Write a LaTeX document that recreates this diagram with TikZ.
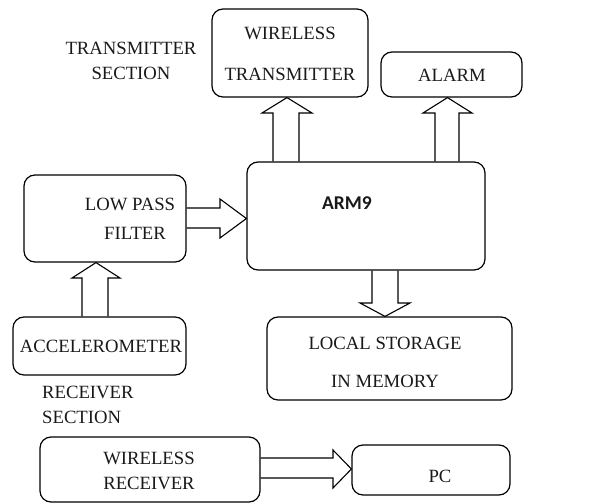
\documentclass[tikz,border=0pt]{standalone}
\usepackage{fontspec}
\setmainfont{Liberation Serif}
\newfontfamily\armfont{Carlito}
\begin{document}
\begin{tikzpicture}[x=1pt,y=-1pt,
  box/.style={draw=black,line width=1.2pt,rounded corners=11pt,inner sep=0pt},
  txt/.style={font=\fontsize{18.7}{25}\selectfont,text=black!90,inner sep=0pt,align=center},
  barrow/.style={draw=black,line width=1.1pt,line join=miter}]
\useasboundingbox (0,0) rectangle (602,503);
% boxes
\node[box,minimum width=156pt,minimum height=88pt] (wt) at (290,53) {};
\node[box,minimum width=141pt,minimum height=45pt] (alarm) at (451.5,74.5) {};
\node[box,minimum width=238pt,minimum height=108pt] (arm) at (366,216) {};
\node[box,minimum width=162pt,minimum height=87pt] (lpf) at (105,218.5) {};
\node[box,minimum width=173pt,minimum height=58pt] (acc) at (99.5,346) {};
\node[box,minimum width=245pt,minimum height=83pt] (ls) at (389.5,358.5) {};
\node[box,minimum width=220pt,minimum height=65pt] (wr) at (150,469.5) {};
\node[box,minimum width=158pt,minimum height=50pt] (pc) at (431,470) {};
% texts
\node[txt,font=\fontsize{18.7}{41}\selectfont] (wtt) at (290,54) {WIRELESS\\TRANSMITTER};
\node[txt] (alarmt) at (452,75) {ALARM};
\node[txt,font=\armfont\bfseries\fontsize{19.5}{20}\selectfont] (armt) at (347,203) {ARM9};
\node[txt,font=\fontsize{18.7}{29}\selectfont] (lpft) at (130,219) {LOW PASS\\\hspace*{10pt}FILTER};
\node[txt] (acct) at (101,346) {ACCELEROMETER};
\node[txt,font=\fontsize{18.7}{38}\selectfont] (lst) at (385,362) {LOCAL STORAGE\\IN MEMORY};
\node[txt] (wrt) at (149,471) {WIRELESS\\RECEIVER};
\node[txt] (pct) at (440,476) {PC};
\node[txt] (tsec) at (131,61) {TRANSMITTER\\SECTION};
\node[txt,align=left,anchor=west] (rsec) at (42,405) {RECEIVER\\SECTION};
% block arrows
\draw[barrow] (273,0 |- arm.north) -- (273,113) -- (262,113) -- (287,0 |- wt.south) -- (312,113) -- (299,113) -- (299,0 |- arm.north);
\draw[barrow] (435,0 |- arm.north) -- (435,113) -- (423,113) -- (447.5,0 |- alarm.south) -- (472,113) -- (459,113) -- (459,0 |- arm.north);
\draw[barrow] (lpf.east |- 0,208) -- (220,208) -- (220,199) -- (arm.west |- 0,218.5) -- (220,238) -- (220,228) -- (lpf.east |- 0,228);
\draw[barrow] (82,0 |- acc.north) -- (82,278) -- (72,278) -- (96,0 |- lpf.south) -- (120,278) -- (108,278) -- (108,0 |- acc.north);
\draw[barrow] (372,0 |- arm.south) -- (372,303) -- (360,303) -- (385,0 |- ls.north) -- (410,303) -- (398,303) -- (398,0 |- arm.south);
\draw[barrow] (wr.east |- 0,458) -- (333,458) -- (333,450) -- (pc.west |- 0,469) -- (333,488) -- (333,478) -- (wr.east |- 0,478);
\end{tikzpicture}
\end{document}
